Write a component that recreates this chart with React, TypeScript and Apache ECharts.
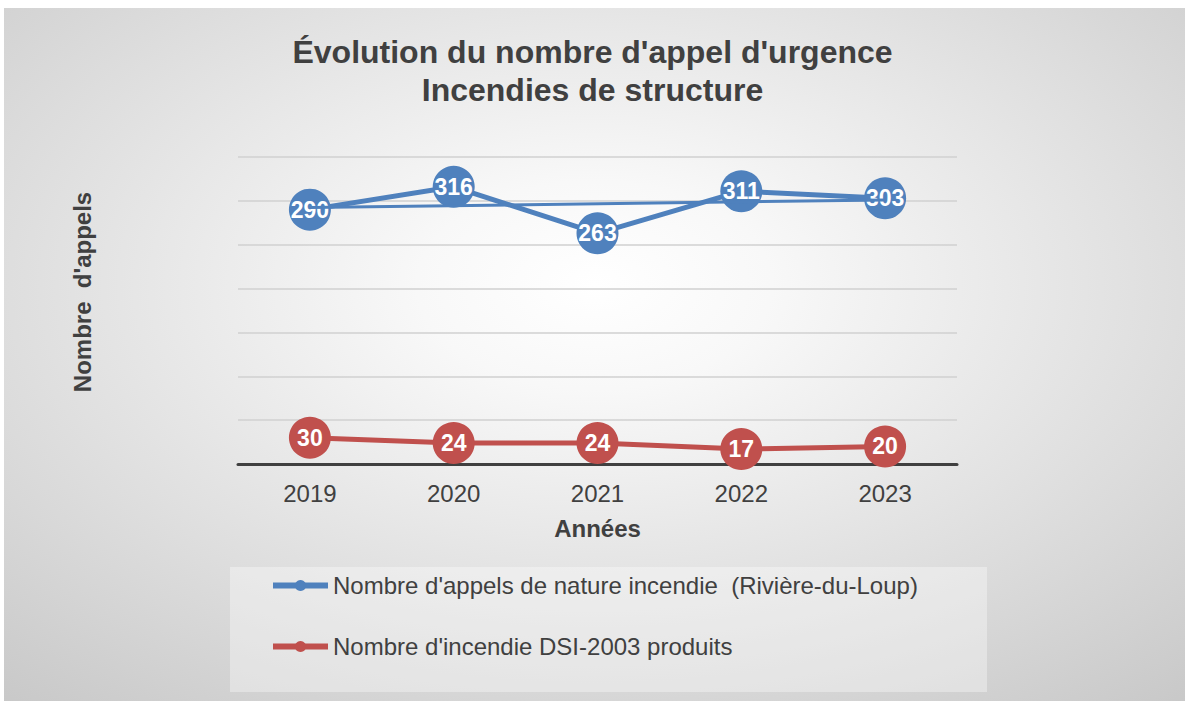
import React, { useEffect, useRef } from "react";
import * as echarts from "echarts";

const years = ["2019", "2020", "2021", "2022", "2023"];
const appelsValues = [290, 316, 263, 311, 303];
const incendiesValues = [30, 24, 24, 17, 20];
const trendValues = [292.4, 301.0];
const titleLines = ["Évolution du nombre d'appel d'urgence", "Incendies de structure"];
const seriesNames = [
  "Nombre d'appels de nature incendie  (Rivière-du-Loup)",
  "Nombre d'incendie DSI-2003 produits",
];
const yAxisTitle = "Nombre  d'appels";
const xAxisTitle = "Années";

const FONT = "Liberation Sans";
const BLUE = "#4F81BD";
const RED = "#C0504D";
const TEXT = "#404040";

export default function App() {
  const ref = useRef<HTMLDivElement>(null);
  useEffect(() => {
    document.body.style.margin = "0";
    const chart = echarts.init(ref.current!, null, { renderer: "svg" });
    const label = {
      show: true,
      position: "inside",
      color: "#ffffff",
      fontWeight: "bold",
      fontSize: 23,
      fontFamily: FONT,
    };
    chart.setOption({
      animation: false,
      backgroundColor: "#ffffff",
      textStyle: { fontFamily: FONT },
      graphic: [
        {
          type: "rect",
          z: -10,
          silent: true,
          shape: { x: 4, y: 8, width: 1181, height: 693 },
          style: {
            fill: {
              type: "radial",
              x: 0.5,
              y: 0.4,
              r: 1.0,
              colorStops: [
                { offset: 0, color: "#ffffff" },
                { offset: 0.15, color: "#f8f8f8" },
                { offset: 1, color: "#b8b8b8" },
              ],
            },
          },
        },
        {
          type: "rect",
          z: -9,
          silent: true,
          shape: { x: 230, y: 567, width: 757, height: 125 },
          style: { fill: "rgba(255,255,255,0.35)" },
        },
        {
          type: "text",
          x: 82,
          y: 292,
          rotation: Math.PI / 2,
          silent: true,
          style: {
            text: yAxisTitle,
            fontSize: 24,
            fontWeight: "bold",
            fontFamily: FONT,
            fill: TEXT,
            align: "center",
            verticalAlign: "middle",
          },
        },
      ],
      title: {
        text: titleLines.join("\n"),
        left: "center",
        top: 28,
        textStyle: {
          fontSize: 32,
          fontWeight: "bold",
          color: TEXT,
          lineHeight: 38,
          fontFamily: FONT,
        },
      },
      legend: {
        orient: "vertical",
        left: 265,
        top: 567,
        itemWidth: 55,
        itemHeight: 14,
        itemGap: 34,
        data: seriesNames,
        lineStyle: { width: 6 },
        textStyle: { fontSize: 24, color: TEXT, fontFamily: FONT, lineHeight: 27 },
      },
      grid: { left: 238, right: 228, top: 157, bottom: 237, containLabel: false },
      xAxis: {
        type: "category",
        data: years,
        boundaryGap: true,
        axisLine: { lineStyle: { color: "#404040", width: 3 } },
        axisTick: { show: false },
        axisLabel: { fontSize: 24, color: TEXT, margin: 17, fontFamily: FONT },
        name: xAxisTitle,
        nameLocation: "middle",
        nameGap: 52,
        nameTextStyle: { fontSize: 24, fontWeight: "bold", color: TEXT, fontFamily: FONT },
      },
      yAxis: {
        type: "value",
        min: 0,
        max: 350,
        interval: 50,
        axisLabel: { show: false },
        axisLine: { show: false },
        axisTick: { show: false },
        splitLine: { lineStyle: { color: "#d0d0d0", width: 1.5 } },
      },
      series: [
        {
          name: seriesNames[0],
          type: "line",
          data: appelsValues,
          symbol: "circle",
          symbolSize: 42,
          lineStyle: { color: BLUE, width: 5 },
          itemStyle: { color: BLUE },
          label,
          z: 3,
        },
        {
          name: seriesNames[1],
          type: "line",
          data: incendiesValues,
          symbol: "circle",
          symbolSize: 42,
          lineStyle: { color: RED, width: 5 },
          itemStyle: { color: RED },
          label,
          z: 3,
        },
        {
          name: "trend",
          type: "line",
          data: [
            [0, trendValues[0]],
            [years.length - 1, trendValues[1]],
          ],
          symbol: "none",
          silent: true,
          lineStyle: { color: BLUE, width: 3 },
          z: 10,
        },
      ],
    });
    return () => chart.dispose();
  }, []);
  return <div ref={ref} style={{ width: 1185, height: 701 }} />;
}
